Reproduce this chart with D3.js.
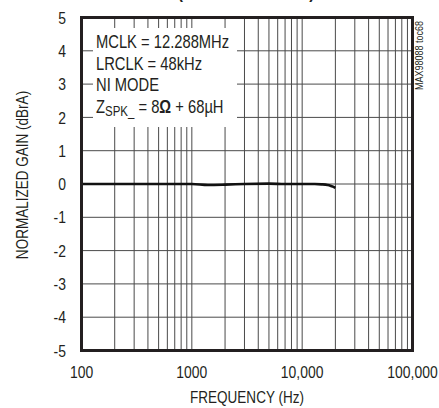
<!DOCTYPE html>
<html><head><meta charset="utf-8">
<script src="https://cdn.jsdelivr.net/npm/d3@7"></script>
<style>
body{margin:0;background:#fff;}
svg{display:block;}
text{font-family:"Liberation Sans Narrow","Arial Narrow","Liberation Sans",Arial,sans-serif;fill:#231f20;}
</style></head>
<body>
<svg id="c" width="439" height="408"></svg>
<script>
const freq = [100, 200, 500, 1000, 1400, 2000, 3000, 5000, 7000, 10000, 13000, 15000, 17000, 18000, 19000, 20000];
const gain = [0, 0, 0, 0, -0.03, -0.02, 0, 0.01, 0, 0, 0, -0.01, -0.03, -0.05, -0.08, -0.12];
const xTicks = [100, 1000, 10000, 100000];
const xTickLabels = ["100", "1000", "10,000", "100,000"];
const yTicks = [5, 4, 3, 2, 1, 0, -1, -2, -3, -4, -5];
const legendLines = ["MCLK = 12.288MHz", "LRCLK = 48kHz", "NI MODE"];

const svg = d3.select("#c");
const L = 81.5, R = 412.5, T = 17.5, B = 350.5;
const x = d3.scaleLog().domain([100, 100000]).range([L, R]);
const y = d3.scaleLinear().domain([-5, 5]).range([B, T]);
const SX = 0.82;

function ctext(parent, px, py, anchor, size, str, rot) {
  const gg = parent.append("g")
    .attr("transform", `translate(${px},${py})${rot ? ` rotate(${rot})` : ""} scale(${SX},1)`);
  return gg.append("text").attr("text-anchor", anchor).style("font-size", size + "px").text(str);
}

// title (mostly cut off at top, as in the reference)
ctext(svg, 246, -2.5, "middle", 19, "(SPEAKER MODE)").style("font-weight", "bold");

// grid
const minor = [];
for (let d = 100; d < 100000; d *= 10) for (let k = 1; k < 10; k++) minor.push(d * k);
const g = svg.append("g");
g.selectAll("line.v").data(minor).join("line")
  .attr("x1", d => x(d)).attr("x2", d => x(d)).attr("y1", T).attr("y2", B)
  .attr("stroke", "#4a4a4a").attr("stroke-width", 1);
g.selectAll("line.h").data(yTicks).join("line")
  .attr("x1", L).attr("x2", R).attr("y1", d => y(d)).attr("y2", d => y(d))
  .attr("stroke", "#4a4a4a").attr("stroke-width", 1);

// legend box
svg.append("rect").attr("x", 93).attr("y", 28).attr("width", 144).attr("height", 99).attr("fill", "#fff");
legendLines.forEach((t, i) => {
  ctext(svg, 96, 48 + i * 21.7, "start", 18, t);
});
const zt = ctext(svg, 96, 48 + 3 * 21.7, "start", 18, null);
zt.append("tspan").text("Z");
zt.append("tspan").attr("dy", 3).style("font-size", "14px").text("SPK_");
zt.append("tspan").attr("dy", -3).text(" = 8");
zt.append("tspan").style("font-weight", "bold").text("Ω");
zt.append("tspan").text(" + 68µH");

// curve
const line = d3.line().x(d => x(d[0])).y(d => y(d[1])).curve(d3.curveMonotoneX);
svg.append("path").datum(freq.map((f, i) => [f, gain[i]]))
  .attr("d", line).attr("fill", "none").attr("stroke", "#111").attr("stroke-width", 2.6);

// frame
svg.append("rect").attr("x", L).attr("y", T).attr("width", R - L).attr("height", B - T)
  .attr("fill", "none").attr("stroke", "#231f20").attr("stroke-width", 3);

// tick labels
yTicks.forEach(d => {
  ctext(svg, 66, y(d), "end", 17, String(d)).attr("dy", "0.36em");
});
xTicks.forEach((d, i) => {
  ctext(svg, x(d), 378, "middle", 17, xTickLabels[i]);
});

ctext(svg, 247, 403, "middle", 16.5, "FREQUENCY (Hz)");
ctext(svg, 28, 175, "middle", 16.5, "NORMALIZED GAIN (dBrA)", -90);
ctext(svg, 423, 90, "start", 11, "MAX98088 toc68", -90);
</script>
</body></html>
